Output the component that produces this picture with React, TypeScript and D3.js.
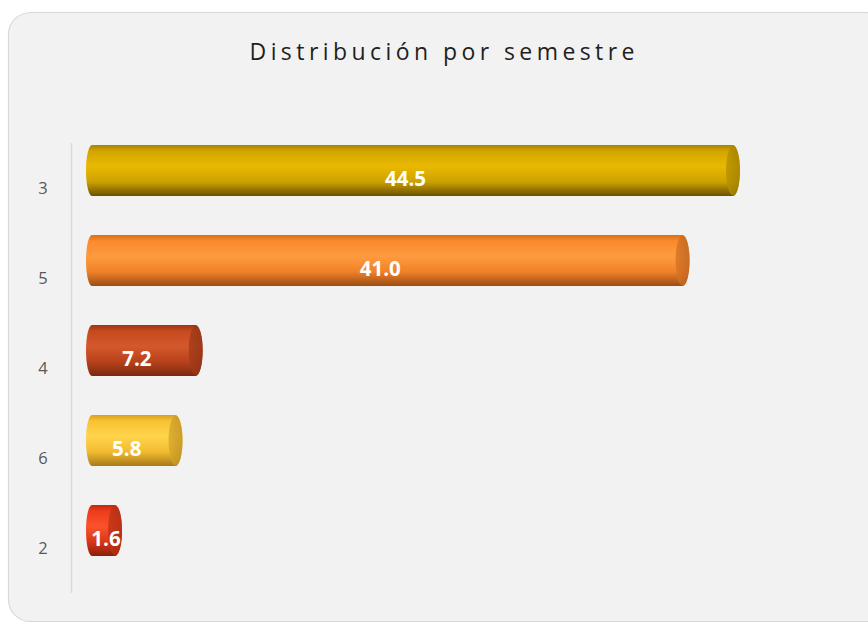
import React from "react";
import * as d3 from "d3";

const categories = ["3", "5", "4", "6", "2"];
const values = [44.5, 41.0, 7.2, 5.8, 1.6];
const title = "Distribución por semestre";

const palettes = [
  ["#a88400", "#d2a600", "#e9b800", "#cda200", "#6a5000"],
  ["#d86e1c", "#fb8a2c", "#fd9b40", "#f08128", "#9a4e14"],
  ["#9c3414", "#c74a1e", "#d4582c", "#b8421c", "#7a2810"],
  ["#d8a020", "#f8c232", "#ffd44c", "#f2bb30", "#a87a18"],
  ["#c02a10", "#ee3c1a", "#fa522c", "#d83818", "#8a200c"],
];
const stops = [0, 0.12, 0.42, 0.72, 1];

export default function App() {
  const W = 868;
  const H = 623;
  const x = d3.scaleLinear().domain([0, 44.5]).range([92, 733]);
  const y = d3
    .scaleBand<string>()
    .domain(categories)
    .range([125.5, 575.5])
    .paddingInner(0.4333)
    .paddingOuter(0.2167);
  const bw = y.bandwidth();
  const rx = 7;
  const ry = bw / 2;

  return (
    <svg
      width={W}
      height={H}
      style={{ position: "absolute", left: 0, top: 0 }}
    >
      <defs>
        {palettes.map((p, i) => (
          <linearGradient key={"g" + i} id={"body" + i} x1="0" y1="0" x2="0" y2="1">
            {p.map((c, j) => (
              <stop key={j} offset={stops[j]} stopColor={c} />
            ))}
          </linearGradient>
        ))}
        {palettes.map((p, i) => (
          <linearGradient key={"c" + i} id={"cap" + i} x1="0" y1="0" x2="1" y2="0">
            <stop offset="0" stopColor={d3.color(p[3])!.darker(0.3).formatHex()} />
            <stop offset="0.5" stopColor={d3.color(p[3])!.darker(0.5).formatHex()} />
            <stop offset="1" stopColor={d3.color(p[3])!.darker(0.7).formatHex()} />
          </linearGradient>
        ))}
      </defs>
      <rect x={0} y={0} width={W} height={H} fill="#ffffff" />
      <rect
        x={8.5}
        y={12.5}
        width={880}
        height={609}
        rx={22}
        ry={22}
        fill="#f2f2f2"
        stroke="#d9d9d9"
        strokeWidth={1.2}
      />
      <text
        x={442}
        y={60}
        textAnchor="middle"
        fontFamily="'Open Sans', 'Noto Sans', sans-serif"
        fontSize={23}
        fill="#1f1f1f"
        textLength={385}
        lengthAdjust="spacing"
      >
        {title}
      </text>
      <line x1={71.5} x2={71.5} y1={143} y2={593} stroke="#d9d9d9" strokeWidth={1.5} />
      {categories.map((c, i) => {
        const top = y(c)!;
        const bottom = top + bw;
        const x0 = x(0);
        const x1 = x(values[i]);
        const body = `M${x0},${top} L${x1},${top} A${rx},${ry} 0 0 1 ${x1},${bottom} L${x0},${bottom} A${rx - 1},${ry} 0 0 1 ${x0},${top} Z`;
        const mid = (x0 + x1) / 2;
        const lx = Math.max(mid - 7, x0 + 14);
        return (
          <g key={c}>
            <path d={body} fill={`url(#body${i})`} />
            <ellipse cx={x1} cy={top + ry} rx={rx} ry={ry - 0.5} fill={`url(#cap${i})`} opacity={0.8} />
            <text
              x={43}
              y={bottom - 8}
              dy="0.35em"
              textAnchor="middle"
              fontFamily="'Open Sans', 'Noto Sans', sans-serif"
              fontSize={16.5}
              fill="#595959"
            >
              {c}
            </text>
            <text
              x={lx}
              y={top + ry + 8}
              dy="0.35em"
              textAnchor="middle"
              fontFamily="'Open Sans', 'Noto Sans', sans-serif"
              fontWeight="bold"
              fontSize={20.5}
              fill="#ffffff"
            >
              {values[i].toFixed(1)}
            </text>
          </g>
        );
      })}
    </svg>
  );
}
